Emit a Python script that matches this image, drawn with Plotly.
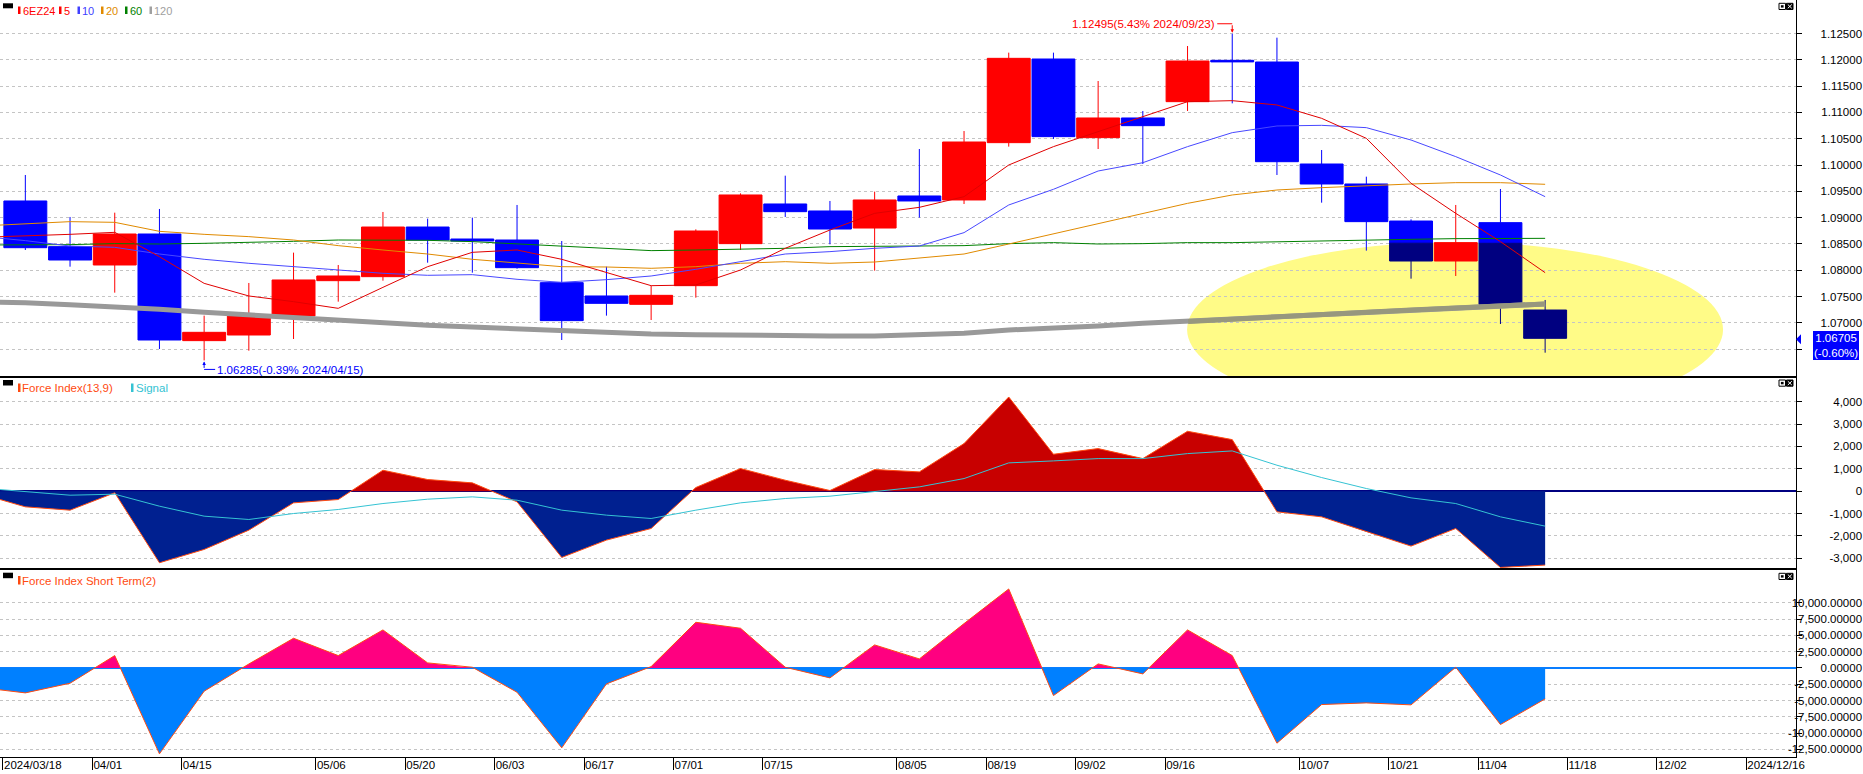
import numpy as np
import pandas as pd
import plotly.graph_objects as go

# ------------------------------------------------------------------ data
week_dates = [
    "2024-03-11", "2024-03-18", "2024-03-25", "2024-04-01", "2024-04-08",
    "2024-04-15", "2024-04-22", "2024-04-29", "2024-05-06", "2024-05-13",
    "2024-05-20", "2024-05-27", "2024-06-03", "2024-06-10", "2024-06-17",
    "2024-06-24", "2024-07-01", "2024-07-08", "2024-07-15", "2024-07-22",
    "2024-07-29", "2024-08-05", "2024-08-12", "2024-08-19", "2024-08-26",
    "2024-09-02", "2024-09-09", "2024-09-16", "2024-09-23", "2024-09-30",
    "2024-10-07", "2024-10-14", "2024-10-21", "2024-10-28", "2024-11-04",
    "2024-11-11",
]
candle_dates = week_dates[1:]

open_ = [1.09316, 1.08448, 1.08099, 1.08688, 1.06661, 1.06768, 1.07130, 1.07801, 1.07877, 1.08821,
         1.08593, 1.08574, 1.07763, 1.07510, 1.07351, 1.07706, 1.08505, 1.09259, 1.09126, 1.08802,
         1.09411, 1.09335, 1.10425, 1.12015, 1.10520, 1.10894, 1.11204, 1.11990, 1.11958, 1.10019,
         1.09639, 1.08935, 1.08175, 1.08904, 1.07243]
high = [1.09810, 1.09012, 1.09094, 1.09164, 1.07136, 1.07757, 1.08334, 1.08099, 1.09107, 1.08980,
        1.08999, 1.09240, 1.08555, 1.08067, 1.07700, 1.08777, 1.09461, 1.09797, 1.09316, 1.09493,
        1.10304, 1.10646, 1.12136, 1.12136, 1.11597, 1.11027, 1.12262, 1.12495, 1.12421, 1.10285,
        1.09778, 1.08967, 1.09240, 1.09544, 1.07434]
low = [1.08384, 1.08067, 1.07573, 1.06502, 1.06285, 1.06470, 1.06692, 1.07402, 1.07801, 1.08143,
       1.07953, 1.08029, 1.06673, 1.07136, 1.07053, 1.07478, 1.08384, 1.09012, 1.08492, 1.07991,
       1.08999, 1.09259, 1.10349, 1.10494, 1.10304, 1.10019, 1.11027, 1.11172, 1.09810, 1.09284,
       1.08372, 1.07839, 1.07890, 1.06977, 1.06432]
close = [1.08428, 1.08194, 1.08688, 1.06673, 1.06819, 1.07148, 1.07814, 1.07890, 1.08821, 1.08574,
         1.08555, 1.08048, 1.07041, 1.07370, 1.07522, 1.08745, 1.09430, 1.09113, 1.08783, 1.09335,
         1.09316, 1.10437, 1.12028, 1.10539, 1.10894, 1.10748, 1.11977, 1.11960, 1.10063, 1.09639,
         1.08923, 1.08175, 1.08524, 1.07350, 1.06705]

# moving averages (one value per week_dates entry)
ma5 = [1.08625, 1.08650, 1.08682, 1.08720, 1.08257, 1.07750, 1.07510, 1.07402, 1.07275, 1.07674,
       1.08067, 1.08340, 1.08384, 1.08207, 1.07953, 1.07706, 1.07719, 1.08004, 1.08416, 1.08764,
       1.09081, 1.09195, 1.09398, 1.10000, 1.10349, 1.10634, 1.10919, 1.11204, 1.11223, 1.11141,
       1.10887, 1.10507, 1.09652, 1.09081, 1.08543, 1.07953]
ma10 = [1.08644, 1.08562, 1.08460, 1.08435, 1.08308, 1.08207, 1.08131, 1.08067, 1.08017, 1.07941,
        1.07903, 1.07915, 1.07827, 1.07770, 1.07820, 1.07890, 1.08017, 1.08169, 1.08308, 1.08353,
        1.08416, 1.08460, 1.08714, 1.09240, 1.09538, 1.09886, 1.10044, 1.10349, 1.10615, 1.10742,
        1.10754, 1.10710, 1.10475, 1.10159, 1.09810, 1.09398]
ma20 = [1.08840, 1.08878, 1.08923, 1.08910, 1.08739, 1.08682, 1.08638, 1.08574, 1.08467, 1.08384,
        1.08308, 1.08207, 1.08131, 1.08067, 1.08061, 1.08036, 1.08067, 1.08131, 1.08162, 1.08131,
        1.08156, 1.08226, 1.08308, 1.08498, 1.08688, 1.08878, 1.09069, 1.09271, 1.09430, 1.09525,
        1.09569, 1.09607, 1.09639, 1.09664, 1.09664, 1.09633]
ma60 = [1.08479, 1.08479, 1.08486, 1.08505, 1.08498, 1.08511, 1.08524, 1.08549, 1.08574, 1.08574,
        1.08568, 1.08543, 1.08498, 1.08448, 1.08410, 1.08372, 1.08384, 1.08397, 1.08416, 1.08448,
        1.08460, 1.08460, 1.08467, 1.08505, 1.08524, 1.08498, 1.08505, 1.08524, 1.08524, 1.08543,
        1.08562, 1.08574, 1.08587, 1.08600, 1.08606, 1.08606]
ma120 = [1.07396, 1.07383, 1.07345, 1.07307, 1.07256, 1.07199, 1.07148, 1.07104, 1.07041, 1.06990,
         1.06952, 1.06920, 1.06882, 1.06844, 1.06806, 1.06787, 1.06775, 1.06762, 1.06749, 1.06749,
         1.06749, 1.06768, 1.06800, 1.06863, 1.06895, 1.06939, 1.06990, 1.07022, 1.07072, 1.07117,
         1.07161, 1.07199, 1.07243, 1.07282, 1.07332, 1.07358]

# Force Index (13,9) and its signal
force13 = [-122, -699, -848, -70, -3199, -2604, -1741, -521, -372, 937,
           521, 372, -476, -2961, -2187, -1667, 164, 1012, 491, 30,
           967, 863, 2128, 4211, 1652, 1905, 1458, 2678, 2306, -923,
           -1146, -1815, -2455, -1667, -3408, -3303]
force_signal = [143, -15, -179, -134, -670, -1116, -1265, -997, -818, -551,
                -357, -253, -402, -848, -1071, -1220, -848, -521, -327, -223,
                -15, 193, 565, 1265, 1354, 1458, 1458, 1681, 1800, 1161,
                610, 119, -298, -551, -1146, -1562]
# Force Index Short Term (2)
force_short = [-3016, -3834, -2352, 1891, -13189, -3578, 600, 4550, 1891, 5828,
               767, 102, -3732, -12269, -2454, 200, 7003, 6083, 102, -1534,
               3527, 1380, 6799, 12115, -4243, 613, -920, 5828, 1891, -11553,
               -5623, -5368, -5674, 102, -8690, -4754]

tick_dates = ["2024-03-18", "2024-04-01", "2024-04-15", "2024-05-06", "2024-05-20",
              "2024-06-03", "2024-06-17", "2024-07-01", "2024-07-15", "2024-08-05",
              "2024-08-19", "2024-09-02", "2024-09-16", "2024-10-07", "2024-10-21",
              "2024-11-04", "2024-11-18", "2024-12-02", "2024-12-16"]
tick_labels = ["2024/03/18", "04/01", "04/15", "05/06", "05/20", "06/03", "06/17", "07/01",
               "07/15", "08/05", "08/19", "09/02", "09/16", "10/07", "10/21", "11/04",
               "11/18", "12/02", "2024/12/16"]

price_ticks = [1.065, 1.070, 1.075, 1.080, 1.085, 1.090, 1.095, 1.100, 1.105, 1.110, 1.115, 1.120, 1.125]
force_ticks = [-3000, -2000, -1000, 0, 1000, 2000, 3000, 4000]
short_ticks = [-12500, -10000, -7500, -5000, -2500, 0, 2500, 5000, 7500, 10000]

symbol = "6EZ24"
high_date, low_date = "2024/09/23", "2024/04/15"

# ------------------------------------------------------------------ layout geometry
W, H = 1863, 774
PLOT_R = 1796
TOP_PX, MID_PX, BOT_PX, AXIS_PX = 0.0, 376.7, 569.0, 756.7
X_RANGE = [-0.567, 39.612]
Y1_RANGE = [1.059753, 1.131369]
Y2_RANGE = [-3478, 5118]
Y3_RANGE = [-13628, 15178]
DOM1 = [1 - MID_PX / H, 1 - TOP_PX / H]
DOM2 = [1 - BOT_PX / H, 1 - MID_PX / H]
DOM3 = [1 - AXIS_PX / H, 1 - BOT_PX / H]
XDOM = [0, PLOT_R / W]

# highlight ellipse (data coordinates of the top panel)
ELL_X0, ELL_X1 = 25.99, 37.98
ELL_Y0, ELL_Y1 = 1.05209, 1.08536
ecx, ecy = (ELL_X0 + ELL_X1) / 2, (ELL_Y0 + ELL_Y1) / 2
ea, eb = (ELL_X1 - ELL_X0) / 2, (ELL_Y1 - ELL_Y0) / 2

FONT = "Liberation Sans, Arial, Helvetica, sans-serif"
UP, DOWN, DOWN_IN = "#FF0000", "#0000FF", "#000080"


def xpos(d):
    return (pd.Timestamp(d) - pd.Timestamp(candle_dates[0])).days / 7.0


xw = [xpos(d) for d in week_dates]
xc = [xpos(d) for d in candle_dates]
tick_pos = [xpos(d) - 0.5 for d in tick_dates]


def ell_top(x):
    r = (x - ecx) / ea
    if abs(r) >= 1:
        return None
    return ecy + eb * np.sqrt(1 - r * r)


def inside(x, y):
    return ((x - ecx) / ea) ** 2 + ((y - ecy) / eb) ** 2 < 1


fig = go.Figure()

# ---------------- candles (down candles under the yellow highlight turn navy)
main_c = {k: [] for k in "xohlc"}
blue_c = {k: [] for k in "xohlc"}
navy_c = {k: [] for k in "xohlc"}


def add(dst, x, o, h, l, c):
    for k, v in zip("xohlc", (x, o, h, l, c)):
        dst[k].append(v)


for k in range(len(candle_dates)):
    x, o, h, l, c = xc[k], open_[k], high[k], low[k], close[k]
    te = ell_top(x)
    if c < o and te is not None and h <= te:
        add(navy_c, x, o, h, l, c)
    elif c < o and te is not None and c < te < o:
        add(blue_c, x, o, h, te, te)
        add(navy_c, x, te, te, l, c)
    else:
        add(main_c, x, o, h, l, c)


def candle_trace(d, dn_color):
    return go.Candlestick(
        x=d["x"], open=d["o"], high=d["h"], low=d["l"], close=d["c"],
        increasing=dict(line=dict(color=UP, width=1), fillcolor=UP),
        decreasing=dict(line=dict(color=dn_color, width=1), fillcolor=dn_color),
        whiskerwidth=0, showlegend=False, hoverinfo="skip", xaxis="x", yaxis="y")


fig.add_trace(candle_trace(main_c, DOWN))
fig.add_trace(candle_trace(blue_c, DOWN))
fig.add_trace(candle_trace(navy_c, DOWN_IN))

# ---------------- moving averages
fig.add_trace(go.Scatter(x=xw, y=ma120, mode="lines", line=dict(color="#999999", width=5),
                         hoverinfo="skip", showlegend=False))
# part of the 120 line under the yellow highlight
gx, gy = [], []
for k in range(len(xw)):
    cur = inside(xw[k], ma120[k])
    if k > 0:
        prev = inside(xw[k - 1], ma120[k - 1])
        if cur != prev:
            a, b = 0.0, 1.0
            for _ in range(40):
                m = (a + b) / 2
                xm = xw[k - 1] + m * (xw[k] - xw[k - 1])
                ym = ma120[k - 1] + m * (ma120[k] - ma120[k - 1])
                if inside(xm, ym) == prev:
                    a = m
                else:
                    b = m
            gx.append(xw[k - 1] + a * (xw[k] - xw[k - 1]))
            gy.append(ma120[k - 1] + a * (ma120[k] - ma120[k - 1]))
            if not cur:
                gx.append(None)
                gy.append(None)
    if cur:
        gx.append(xw[k])
        gy.append(ma120[k])
fig.add_trace(go.Scatter(x=gx, y=gy, mode="lines", line=dict(color="#97977E", width=5),
                         hoverinfo="skip", showlegend=False))
for ys, col in [(ma60, "#008000"), (ma20, "#E08A00"), (ma10, "#4848FF"), (ma5, "#E00000")]:
    fig.add_trace(go.Scatter(x=xw, y=ys, mode="lines", line=dict(color=col, width=1),
                             hoverinfo="skip", showlegend=False))


# ---------------- indicator panels
def split_zero(xs, vs):
    px, pv = [], []
    for k in range(len(xs)):
        if k > 0 and vs[k - 1] * vs[k] < 0:
            t = vs[k - 1] / (vs[k - 1] - vs[k])
            px.append(xs[k - 1] + t * (xs[k] - xs[k - 1]))
            pv.append(0.0)
        px.append(xs[k])
        pv.append(vs[k])
    return px, [max(v, 0) for v in pv], [min(v, 0) for v in pv]


def area_panel(vs, pos_col, neg_col, xa, ya):
    px, pos, neg = split_zero(xw, vs)
    for ys, col in [(pos, pos_col), (neg, neg_col)]:
        fig.add_trace(go.Scatter(x=px, y=ys, mode="lines", fill="tozeroy", fillcolor=col,
                                 line=dict(width=0, color=col), hoverinfo="skip",
                                 showlegend=False, xaxis=xa, yaxis=ya))
    fig.add_trace(go.Scatter(x=xw, y=vs, mode="lines", line=dict(color="#FF4A10", width=1),
                             hoverinfo="skip", showlegend=False, xaxis=xa, yaxis=ya))


area_panel(force13, "#C80000", "#002090", "x2", "y2")
fig.add_trace(go.Scatter(x=xw, y=force_signal, mode="lines", line=dict(color="#35C3D3", width=1),
                         hoverinfo="skip", showlegend=False, xaxis="x2", yaxis="y2"))
area_panel(force_short, "#FF0080", "#0080FF", "x3", "y3")

# invisible carriers for the label-only axes
for ys, xa, ya in [(close, "x", "y4"), (force13[1:], "x2", "y5"), (force_short[1:], "x3", "y6")]:
    fig.add_trace(go.Scatter(x=xc, y=ys, mode="lines", line=dict(width=0), opacity=0,
                             hoverinfo="skip", showlegend=False, xaxis=xa, yaxis=ya))

# ------------------------------------------------------------------ axes
common_x = dict(range=X_RANGE, domain=XDOM, showgrid=False, zeroline=False, showline=True,
                mirror=True, linecolor="black", linewidth=1, automargin=False, fixedrange=True)
tickfont = dict(family=FONT, size=11.5, color="black")


def ymain(dom, rng, tv, anchor, zl=False, zlc="black"):
    return dict(domain=dom, range=rng, side="right", anchor=anchor, showline=True, mirror=True,
                linecolor="black", linewidth=1, ticks="outside", ticklen=5, tickcolor="black",
                tickvals=tv, showticklabels=False, showgrid=True, gridcolor="#C4C4C4",
                griddash="dot", gridwidth=1, zeroline=zl, zerolinecolor=zlc, zerolinewidth=1.5,
                automargin=False, fixedrange=True)


def ylab(over, rng, tv, tt):
    return dict(overlaying=over, range=rng, side="left", anchor="free", position=0.9995,
                tickvals=tv, ticktext=tt, ticks="", showline=False, showgrid=False,
                zeroline=False, tickfont=tickfont, automargin=False, fixedrange=True)


price_lab = [v for v in price_ticks if v >= 1.07]
layout = dict(
    width=W, height=H, margin=dict(l=0, r=0, t=0, b=0, autoexpand=False),
    paper_bgcolor="white", plot_bgcolor="white", showlegend=False, hovermode=False,
    boxgap=0.04, boxgroupgap=0, template="none", font=dict(family=FONT),
    xaxis=dict(common_x, anchor="y", ticks="", showticklabels=False, rangeslider=dict(visible=False)),
    xaxis2=dict(common_x, anchor="y2", ticks="", showticklabels=False),
    xaxis3=dict(common_x, anchor="y3", ticks="outside", ticklen=12, tickcolor="black", tickwidth=1,
                tickvals=tick_pos, ticktext=tick_labels, ticklabelposition="outside right",
                ticklabelstandoff=-3, tickfont=tickfont),
    yaxis=ymain(DOM1, Y1_RANGE, price_ticks, "x"),
    yaxis2=ymain(DOM2, Y2_RANGE, force_ticks, "x2", True, "#000080"),
    yaxis3=ymain(DOM3, Y3_RANGE, short_ticks, "x3", True, "#0A7EFF"),
    yaxis4=ylab("y", Y1_RANGE, price_lab, [f"{v:.5f}" for v in price_lab]),
    yaxis5=ylab("y2", Y2_RANGE, force_ticks, [f"{v:,}" for v in force_ticks]),
    yaxis6=ylab("y3", Y3_RANGE, short_ticks, [f"{v:,.5f}" for v in short_ticks]),
)
fig.update_layout(**layout)

# ------------------------------------------------------------------ decorations
shapes, anns = [], []
shapes.append(dict(type="circle", xref="x", yref="y", x0=ELL_X0, x1=ELL_X1, y0=ELL_Y0, y1=ELL_Y1,
                   fillcolor="#FFFB87", line=dict(width=0), layer="below"))


def rect_px(x0, y0, x1, y1, fill, lw=0, lc="black"):
    shapes.append(dict(type="rect", xref="paper", yref="paper", x0=x0 / W, x1=x1 / W,
                       y0=1 - y1 / H, y1=1 - y0 / H, fillcolor=fill,
                       line=dict(width=lw, color=lc), layer="above"))


def text_px(x, y, text, color, size=12, xanchor="left"):
    anns.append(dict(xref="paper", yref="paper", x=x / W, y=1 - y / H, text=text, showarrow=False,
                     xanchor=xanchor, yanchor="middle", borderpad=0, borderwidth=0,
                     font=dict(family=FONT, size=size, color=color)))


# panel legends
rect_px(3, 3.3, 13, 8.3, "black")
for bx, label, col in [(18, symbol, "#FF0000"), (59, "5", "#FF0000"), (77.5, "10", "#4040FF"),
                       (101, "20", "#E08A00"), (125, "60", "#008000"), (149.5, "120", "#A0A0A0")]:
    rect_px(bx, 6.5, bx + 2.5, 14, col)
    text_px(bx + 4.5, 10.5, label, col, 11)
for y0 in (380.0, 572.7):
    rect_px(3, y0, 13, y0 + 5.5, "black")
rect_px(18, 383.5, 20.5, 392, "#FF4A10")
text_px(22, 388, "Force Index(13,9)", "#FF4A10", 11.5)
rect_px(131, 383.5, 133.5, 392, "#35C3D3")
text_px(136, 388, "Signal", "#35C3D3", 11.5)
rect_px(18, 576, 20.5, 584.5, "#FF4A10")
text_px(22, 580.5, "Force Index Short Term(2)", "#FF4A10", 11.5)

# panel window icons
for y0 in (3.3, 380.0, 573.3):
    rect_px(1779, y0, 1785.5, y0 + 6.2, "white", 1)
    rect_px(1780.9, y0 + 1.9, 1783.6, y0 + 4.3, "black")
    rect_px(1786.5, y0, 1793, y0 + 6.2, "black", 1)
    shapes.append(dict(type="line", xref="paper", yref="paper", x0=1787.8 / W, x1=1791.8 / W,
                       y0=1 - (y0 + 1.2) / H, y1=1 - (y0 + 5.0) / H, line=dict(color="white", width=1)))
    shapes.append(dict(type="line", xref="paper", yref="paper", x0=1787.8 / W, x1=1791.8 / W,
                       y0=1 - (y0 + 5.0) / H, y1=1 - (y0 + 1.2) / H, line=dict(color="white", width=1)))

# high / low markers
last = close[-1]
ih = int(np.argmax(high))
il = int(np.argmin(low))
hi_txt = f"{high[ih]:.5f}({(high[ih] / last - 1) * 100:.2f}% {high_date})"
lo_txt = f"{low[il]:.5f}({(low[il] / last - 1) * 100:.2f}% {low_date})"
anns.append(dict(x=xc[ih], y=high[ih], xref="x", yref="y", text=hi_txt, showarrow=False,
                 xanchor="right", yanchor="middle", xshift=-16, yshift=10, borderpad=0,
                 font=dict(family=FONT, size=11.5, color="#FF0000")))
shapes.append(dict(type="path", xref="x", yref="y", xsizemode="pixel", ysizemode="pixel",
                   xanchor=xc[ih], yanchor=high[ih], path="M -15,10 L 0,10",
                   line=dict(color="#FF0000", width=1)))
anns.append(dict(x=xc[ih], y=high[ih], xref="x", yref="y", text="", showarrow=True, ax=0, ay=-10,
                 arrowhead=2, arrowsize=0.7, arrowwidth=1, arrowcolor="#FF0000", standoff=1))
anns.append(dict(x=xc[il], y=low[il], xref="x", yref="y", text=lo_txt, showarrow=False,
                 xanchor="left", yanchor="middle", xshift=12, yshift=-9.5, borderpad=0,
                 font=dict(family=FONT, size=11.5, color="#0000FF")))
shapes.append(dict(type="path", xref="x", yref="y", xsizemode="pixel", ysizemode="pixel",
                   xanchor=xc[il], yanchor=low[il], path="M 0,-9 L 11,-9",
                   line=dict(color="#0000FF", width=1)))
anns.append(dict(x=xc[il], y=low[il], xref="x", yref="y", text="", showarrow=True, ax=0, ay=9,
                 arrowhead=2, arrowsize=0.7, arrowwidth=1, arrowcolor="#0000FF", standoff=1))

# current price box
yp_last = DOM1[0] + (last - Y1_RANGE[0]) / (Y1_RANGE[1] - Y1_RANGE[0]) * (DOM1[1] - DOM1[0])
chg = (close[-1] / close[-2] - 1) * 100
anns.append(dict(xref="paper", yref="paper", x=1859 / W, y=yp_last, yshift=7, xanchor="right",
                 yanchor="top", showarrow=False, text=f"{last:.5f}<br>({chg:.2f}%)",
                 bgcolor="#0000FF", borderpad=1, borderwidth=0, align="center",
                 font=dict(family=FONT, size=11.5, color="white")))
shapes.append(dict(type="path", xref="paper", yref="paper", xsizemode="pixel", ysizemode="pixel",
                   xanchor=PLOT_R / W, yanchor=yp_last, path="M 0,-1 L 5,4 L 5,-6 Z",
                   fillcolor="#0000FF", line=dict(width=0)))

fig.update_layout(shapes=shapes, annotations=anns)
fig.write_html(
    "out.html",
    config={"displayModeBar": False, "staticPlot": True},
    post_script=("document.body.style.margin='0px';document.body.style.padding='0px';"
                 "document.body.style.overflow='hidden';"
                 "document.documentElement.style.overflow='hidden';"),
)
